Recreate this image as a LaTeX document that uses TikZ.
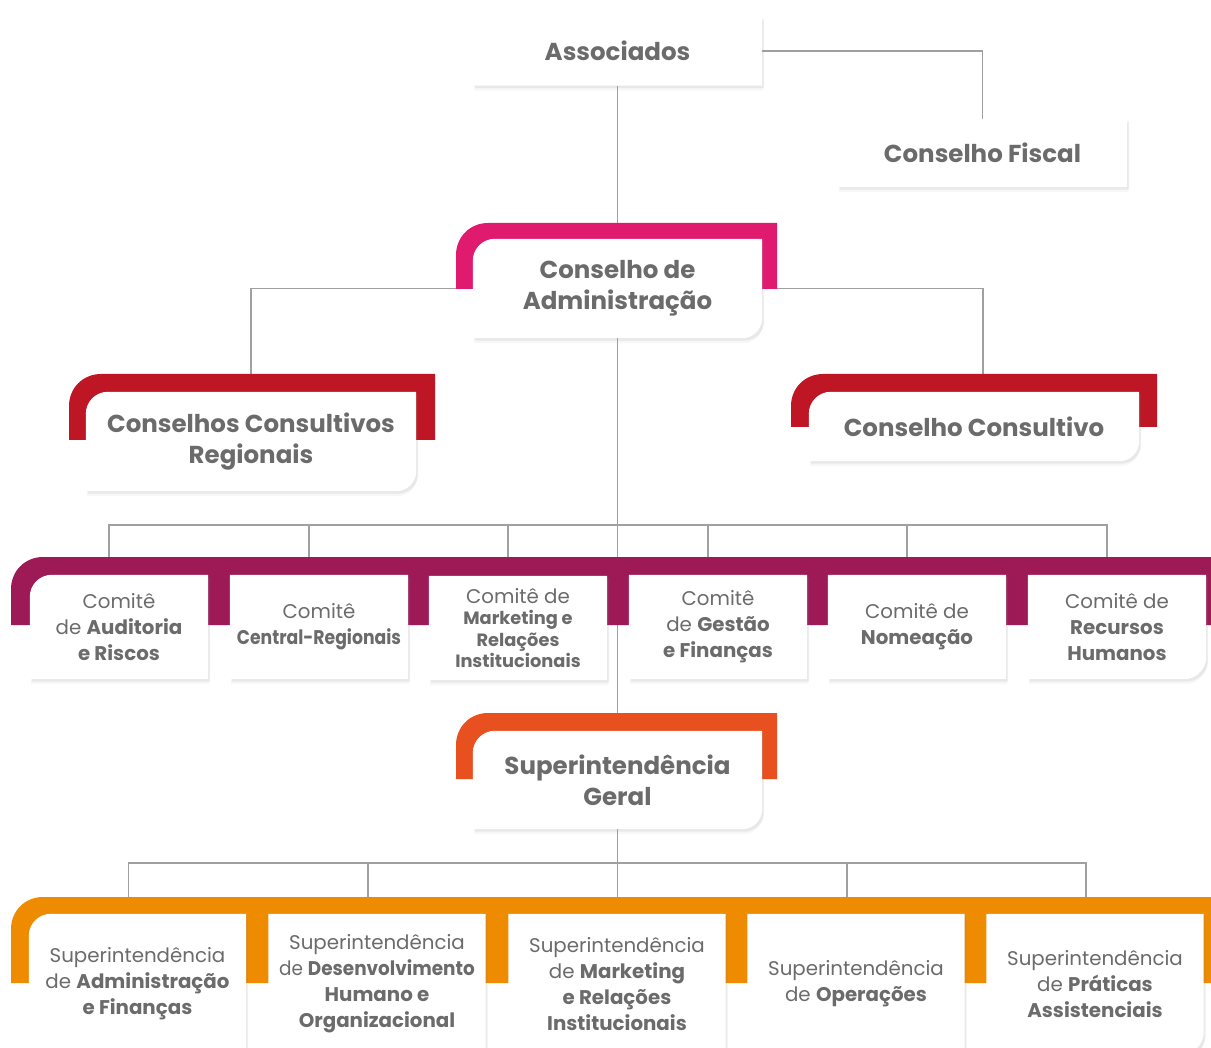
\documentclass[tikz,border=0pt]{standalone}
\usepackage{fontspec}
\setmainfont{Poppins}
\usepackage{xcolor}
\usetikzlibrary{calc,shadows}

\definecolor{txtgray}{HTML}{6B6B6B}
\definecolor{wiregray}{HTML}{A0A0A0}
\definecolor{cadmpink}{HTML}{E01A6F}
\definecolor{consred}{HTML}{BE1624}
\definecolor{comitemag}{HTML}{9E1A57}
\definecolor{geralorange}{HTML}{E9501F}
\definecolor{superorange}{HTML}{EE8B00}

\pgfdeclarelayer{wires}
\pgfdeclarelayer{bands}
\pgfsetlayers{wires,bands,main}

% coloured tab behind a box: colour, left, top, right, bottom
\newcommand{\tband}[5]{%
  \fill[#1] (#2,#5) -- (#2,#3+32) .. controls (#2,#3+14) and (#2+14,#3) .. (#2+32,#3)
    -- (#4,#3) -- (#4,#5) -- cycle;}
% white box under a node: node, top-left radius, bottom-right radius
\newcommand{\wbox}[3]{%
  \fill[white,boxshadow] (#1.south west) -- ($(#1.north west)+(0,#2)$)
    .. controls ($(#1.north west)+(0,0.45*#2)$) and ($(#1.north west)+(0.45*#2,0)$)
    .. ($(#1.north west)+(#2,0)$)
    -- (#1.north east) -- ($(#1.south east)+(0,-#3)$)
    .. controls ($(#1.south east)+(0,-0.45*#3)$) and ($(#1.south east)+(-0.45*#3,0)$)
    .. ($(#1.south east)+(-#3,0)$) -- cycle;}

\tikzset{
  boxshadow/.style={
    drop shadow={shadow xshift=1pt,shadow yshift=-5pt,opacity=0.06},
    drop shadow={shadow xshift=2pt,shadow yshift=-2.5pt,opacity=0.12}},
  wire/.style={draw=wiregray,line width=1.8pt},
  title/.style={inner sep=0pt,align=center,text=txtgray,font=\bfseries\fontsize{24.5}{31}\selectfont},
  comite/.style={inner sep=0pt,align=center,text=txtgray,minimum width=178pt,minimum height=104pt,
    font=\fontsize{19.8}{26}\selectfont},
  superbox/.style={inner sep=0pt,align=center,text=txtgray,minimum width=217pt,minimum height=140pt,
    font=\fontsize{19.8}{26}\selectfont},
}

\begin{document}
\begin{tikzpicture}[x=1pt,y=-1pt]
\useasboundingbox (0,0) rectangle (1211,1048);

    % top of the chart
    \node[title,minimum width=289pt,minimum height=69pt] (assoc) at (617.5,51) {Associados};
    \node[title,minimum width=289pt,minimum height=68pt] (fiscal) at (982.5,153) {Conselho Fiscal};
    \node[title,minimum width=289pt,minimum height=99pt] (cadm) at (617.5,288.5) {Conselho de\\Administração};
    \node[title,minimum width=330pt,minimum height=99pt] (ccr) at (251,441.5) {Conselhos Consultivos\\Regionais};
    \node[title,minimum width=330pt,minimum height=69pt] (cc) at (974,426.5) {Conselho Consultivo};

    % comites
    \node[comite] (c1) at (119,627) {Comitê\\de \textbf{Auditoria}\\\textbf{e Riscos}};
    \node[comite] (c2) at (319,627) {Comitê\\\scalebox{0.87}[1]{\textbf{Central-Regionais}}};
    \node[comite,font=\fontsize{17.8}{21.5}\selectfont] (c3) at (518,628)
        {{\fontsize{19.8}{21.5}\selectfont Comitê de}\\\textbf{Marketing e}\\\textbf{Relações}\\\textbf{Institucionais}};
    \node[comite] (c4) at (718,627) {Comitê\\de \textbf{Gestão}\\\textbf{e Finanças}};
    \node[comite] (c5) at (917,627) {Comitê de\\\textbf{Nomeação}};
    \node[comite] (c6) at (1117,627) {Comitê de\\\textbf{Recursos}\\\textbf{Humanos}};

    \node[title,minimum width=289pt,minimum height=98pt] (sg) at (617.5,780) {Superintendência\\Geral};

    % superintendencias
    \node[superbox] (s1) at (137.5,984) {Superintendência\\de \textbf{Administração}\\\textbf{e Finanças}};
    \node[superbox] (s2) at (377,984) {Superintendência\\\scalebox{0.93}[1]{de \textbf{Desenvolvimento}}\\\textbf{Humano e}\\\textbf{Organizacional}};
    \node[superbox] (s3) at (617,984) {Superintendência\\de \textbf{Marketing}\\\textbf{e Relações}\\\textbf{Institucionais}};
    \node[superbox] (s4) at (856,984) {Superintendência\\de \textbf{Operações}};
    \node[superbox] (s5) at (1095,984) {Superintendência\\de \textbf{Práticas}\\\textbf{Assistenciais}};

    \coordinate (cbus) at (617.5,525);
    \coordinate (sbus) at (617.5,863);

\begin{pgfonlayer}{wires}
    \fill[white] (0,0) rectangle (1211,1048);
    \draw[wire] (assoc.east) -| (fiscal.north);
    \draw[wire] (assoc.south) -- (cadm.north);
    \draw[wire] (cadm.west) -| (ccr.north);
    \draw[wire] (cadm.east) -| ([xshift=9pt]cc.north);
    \draw[wire] (cadm.south) -- (sg.north);
    \foreach \n in {c1,c2,c3,c4,c5,c6}
        \draw[wire] ([xshift=-10pt]\n.north) |- (cbus);
    \draw[wire] (sg.south) -- (sg.south |- s3.north);
    \foreach \n in {s1,s2,s4,s5}
        \draw[wire] ([xshift=-9pt]\n.north) |- (sbus);
\end{pgfonlayer}

\begin{pgfonlayer}{bands}
    \tband{cadmpink}{456}{223}{777}{289}
    \tband{consred}{69}{374}{435}{440}
    \tband{consred}{791}{374}{1157}{427}
    \tband{comitemag}{11}{557}{1211}{625}
    \tband{geralorange}{456}{713}{777}{779}
    \tband{superorange}{11}{897}{1211}{983}

    \wbox{assoc}{0}{0}
    \wbox{fiscal}{0}{0}
    \wbox{cadm}{22}{20}
    \wbox{ccr}{22}{20}
    \wbox{cc}{22}{20}
    \wbox{c1}{22}{0}
    \foreach \n in {c2,c3,c4,c5} {\wbox{\n}{0}{0}}
    \wbox{c6}{0}{22}
    \wbox{sg}{22}{20}
    \wbox{s1}{22}{0}
    \foreach \n in {s2,s3,s4} {\wbox{\n}{0}{0}}
    \wbox{s5}{0}{22}
\end{pgfonlayer}

\end{tikzpicture}
\end{document}
